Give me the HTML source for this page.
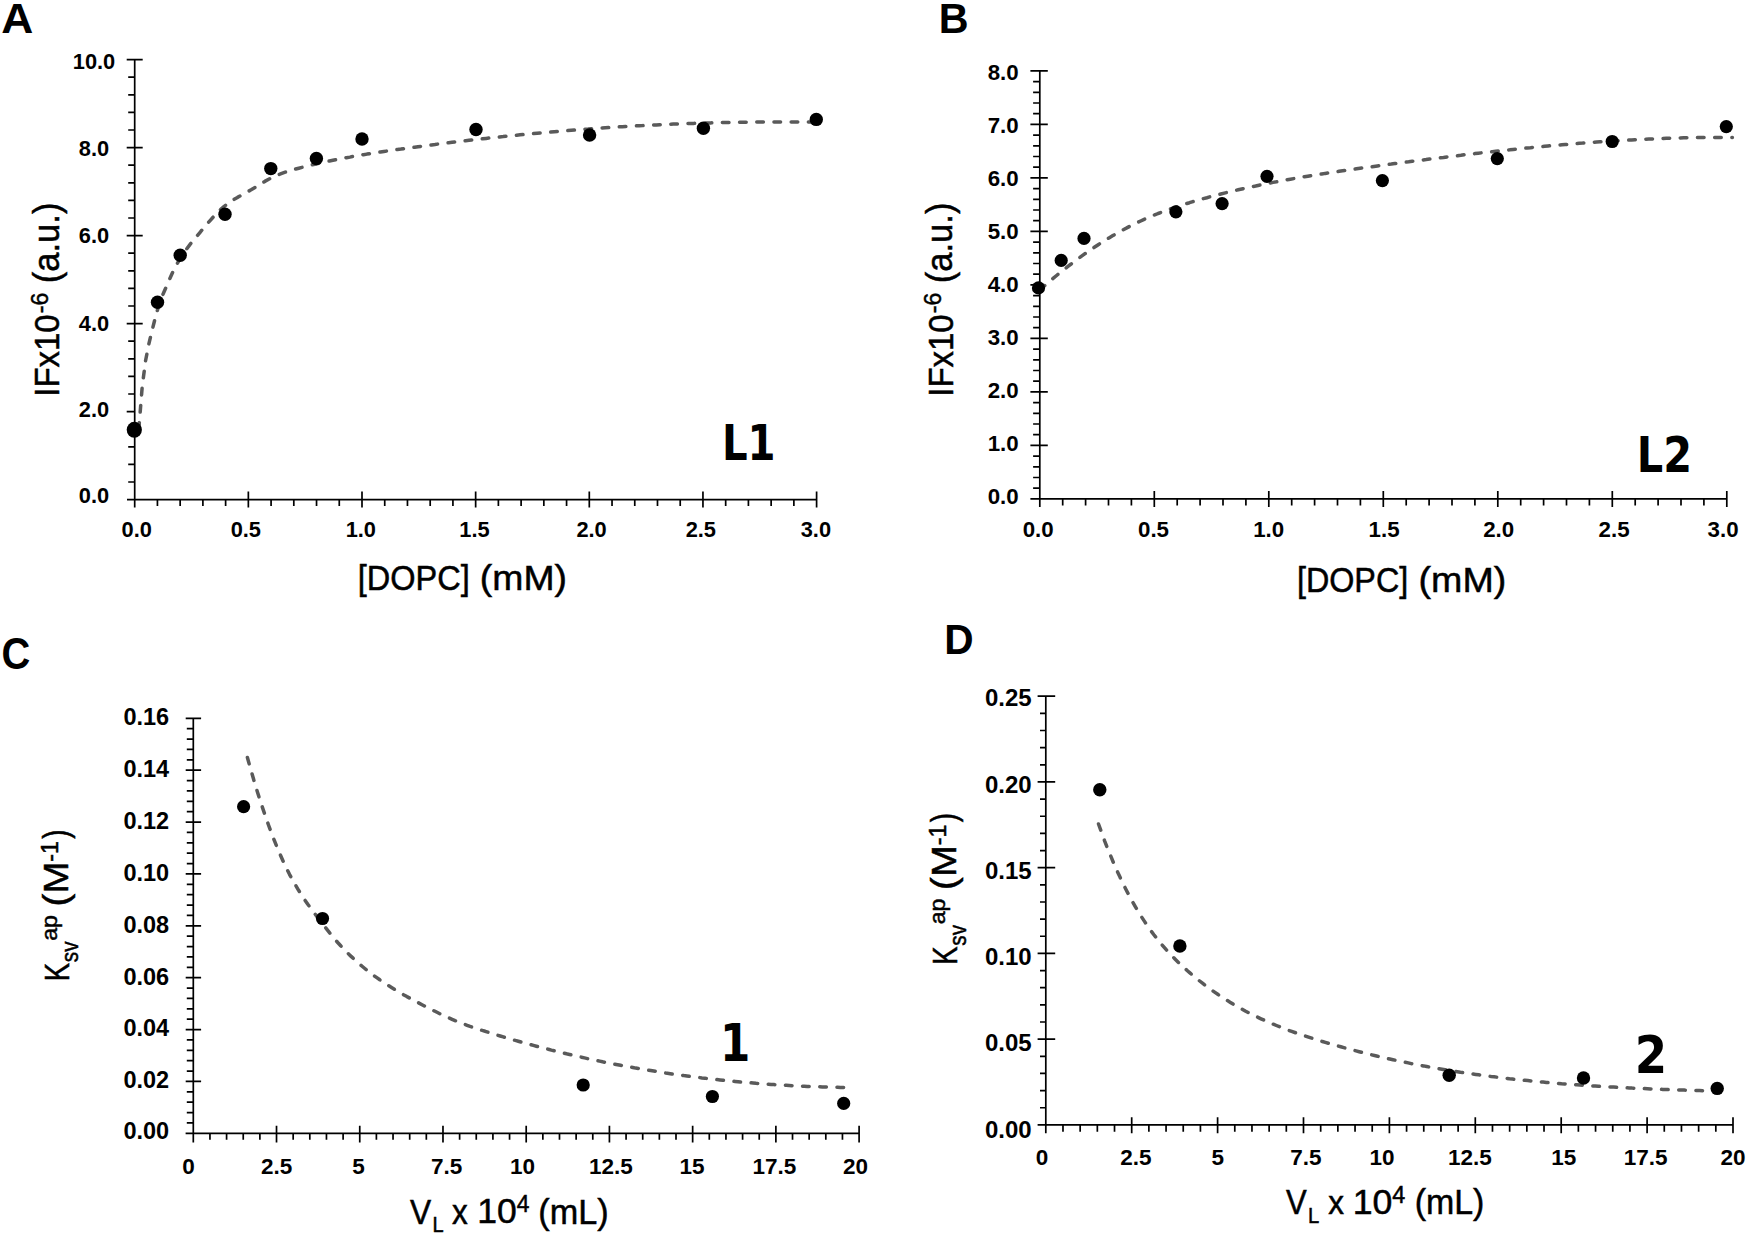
<!DOCTYPE html>
<html><head><meta charset="utf-8"><title>Figure</title>
<style>
html,body{margin:0;padding:0;background:#fff;}
svg{display:block;}
.t{font-family:"Liberation Sans", Arial, sans-serif;font-weight:bold;fill:#000;}
.c{fill:none;stroke:#5a5a5a;stroke-width:3.5;stroke-dasharray:6.6 10.6;stroke-linecap:round;stroke-linejoin:round;}
</style></head>
<body>
<svg width="1747" height="1235" viewBox="0 0 1747 1235">
<rect width="1747" height="1235" fill="#fff"/>
<path d="M134.7,59.6V499.6M127,499.6H816.6M128.2,482H134.7M128.2,464.4H134.7M128.2,446.8H134.7M128.2,429.2H134.7M126.7,411.6H134.7M128.2,394H134.7M128.2,376.4H134.7M128.2,358.8H134.7M128.2,341.2H134.7M126.7,323.6H142.7M128.2,306H134.7M128.2,288.4H134.7M128.2,270.8H134.7M128.2,253.2H134.7M126.7,235.6H142.7M128.2,218H134.7M128.2,200.4H134.7M128.2,182.8H134.7M128.2,165.2H134.7M126.7,147.6H142.7M128.2,130H134.7M128.2,112.4H134.7M128.2,94.8H134.7M128.2,77.2H134.7M126.7,59.6H142.7M134.7,491.6V507.6M157.43,499.6V506.1M180.16,499.6V506.1M202.89,499.6V506.1M225.62,499.6V506.1M248.35,491.6V507.6M271.08,499.6V506.1M293.81,499.6V506.1M316.54,499.6V506.1M339.27,499.6V506.1M362,491.6V507.6M384.73,499.6V506.1M407.46,499.6V506.1M430.19,499.6V506.1M452.92,499.6V506.1M475.65,491.6V507.6M498.38,499.6V506.1M521.11,499.6V506.1M543.84,499.6V506.1M566.57,499.6V506.1M589.3,491.6V507.6M612.03,499.6V506.1M634.76,499.6V506.1M657.49,499.6V506.1M680.22,499.6V506.1M702.95,491.6V507.6M725.68,499.6V506.1M748.41,499.6V506.1M771.14,499.6V506.1M793.87,499.6V506.1M816.6,491.6V507.6" stroke="#000" stroke-width="1.7" fill="none"/>
<text class="t" x="94" y="69.14" font-size="21.80" text-anchor="middle">10.0</text>
<text class="t" x="94" y="156.14" font-size="21.80" text-anchor="middle">8.0</text>
<text class="t" x="94" y="243.14" font-size="21.80" text-anchor="middle">6.0</text>
<text class="t" x="94" y="330.94" font-size="21.80" text-anchor="middle">4.0</text>
<text class="t" x="94" y="417.24" font-size="21.80" text-anchor="middle">2.0</text>
<text class="t" x="94" y="503.04" font-size="21.80" text-anchor="middle">0.0</text>
<text class="t" x="136.7" y="536.6" font-size="21.80" text-anchor="middle">0.0</text>
<text class="t" x="245.8" y="536.6" font-size="21.80" text-anchor="middle">0.5</text>
<text class="t" x="360.8" y="536.6" font-size="21.80" text-anchor="middle">1.0</text>
<text class="t" x="474.5" y="536.6" font-size="21.80" text-anchor="middle">1.5</text>
<text class="t" x="591.6" y="536.6" font-size="21.80" text-anchor="middle">2.0</text>
<text class="t" x="700.8" y="536.6" font-size="21.80" text-anchor="middle">2.5</text>
<text class="t" x="815.9" y="536.6" font-size="21.80" text-anchor="middle">3.0</text>
<path d="M1039.8,70.9V498.9M1030.4,498.9H1726.8M1033.1,488.2H1039.8M1033.1,477.5H1039.8M1033.1,466.8H1039.8M1033.1,456.1H1039.8M1030.4,445.4H1047.8M1033.1,434.7H1039.8M1033.1,424H1039.8M1033.1,413.3H1039.8M1033.1,402.6H1039.8M1030.4,391.9H1047.8M1033.1,381.2H1039.8M1033.1,370.5H1039.8M1033.1,359.8H1039.8M1033.1,349.1H1039.8M1030.4,338.4H1047.8M1033.1,327.7H1039.8M1033.1,317H1039.8M1033.1,306.3H1039.8M1033.1,295.6H1039.8M1030.4,284.9H1039.8M1033.1,274.2H1039.8M1033.1,263.5H1039.8M1033.1,252.8H1039.8M1033.1,242.1H1039.8M1030.4,231.4H1047.8M1033.1,220.7H1039.8M1033.1,210H1039.8M1033.1,199.3H1039.8M1033.1,188.6H1039.8M1030.4,177.9H1047.8M1033.1,167.2H1039.8M1033.1,156.5H1039.8M1033.1,145.8H1039.8M1033.1,135.1H1039.8M1030.4,124.4H1047.8M1033.1,113.7H1039.8M1033.1,103H1039.8M1033.1,92.3H1039.8M1033.1,81.6H1039.8M1030.4,70.9H1047.8M1039.8,490.9V506.9M1062.7,498.9V505.4M1085.6,498.9V505.4M1108.5,498.9V505.4M1131.4,498.9V505.4M1154.3,490.9V506.9M1177.2,498.9V505.4M1200.1,498.9V505.4M1223,498.9V505.4M1245.9,498.9V505.4M1268.8,490.9V506.9M1291.7,498.9V505.4M1314.6,498.9V505.4M1337.5,498.9V505.4M1360.4,498.9V505.4M1383.3,490.9V506.9M1406.2,498.9V505.4M1429.1,498.9V505.4M1452,498.9V505.4M1474.9,498.9V505.4M1497.8,490.9V506.9M1520.7,498.9V505.4M1543.6,498.9V505.4M1566.5,498.9V505.4M1589.4,498.9V505.4M1612.3,490.9V506.9M1635.2,498.9V505.4M1658.1,498.9V505.4M1681,498.9V505.4M1703.9,498.9V505.4M1726.8,490.9V506.9" stroke="#000" stroke-width="1.7" fill="none"/>
<text class="t" x="1003.2" y="504.2" font-size="22.30" text-anchor="middle">0.0</text>
<text class="t" x="1003.2" y="451.19" font-size="22.30" text-anchor="middle">1.0</text>
<text class="t" x="1003.2" y="398.18" font-size="22.30" text-anchor="middle">2.0</text>
<text class="t" x="1003.2" y="345.17" font-size="22.30" text-anchor="middle">3.0</text>
<text class="t" x="1003.2" y="292.16" font-size="22.30" text-anchor="middle">4.0</text>
<text class="t" x="1003.2" y="239.15" font-size="22.30" text-anchor="middle">5.0</text>
<text class="t" x="1003.2" y="186.14" font-size="22.30" text-anchor="middle">6.0</text>
<text class="t" x="1003.2" y="133.13" font-size="22.30" text-anchor="middle">7.0</text>
<text class="t" x="1003.2" y="80.12" font-size="22.30" text-anchor="middle">8.0</text>
<text class="t" x="1038.2" y="536.9" font-size="22.30" text-anchor="middle">0.0</text>
<text class="t" x="1153.5" y="536.9" font-size="22.30" text-anchor="middle">0.5</text>
<text class="t" x="1268.7" y="536.9" font-size="22.30" text-anchor="middle">1.0</text>
<text class="t" x="1384.1" y="536.9" font-size="22.30" text-anchor="middle">1.5</text>
<text class="t" x="1498.7" y="536.9" font-size="22.30" text-anchor="middle">2.0</text>
<text class="t" x="1614.1" y="536.9" font-size="22.30" text-anchor="middle">2.5</text>
<text class="t" x="1723.1" y="536.9" font-size="22.30" text-anchor="middle">3.0</text>
<path d="M193.3,718.3V1133.3M185.6,1133.3H859.1M186.8,1122.92H193.3M186.8,1112.55H193.3M186.8,1102.17H193.3M186.8,1091.8H193.3M185.7,1081.42H201.1M186.8,1071.05H193.3M186.8,1060.67H193.3M186.8,1050.3H193.3M186.8,1039.92H193.3M185.7,1029.55H201.1M186.8,1019.17H193.3M186.8,1008.8H193.3M186.8,998.42H193.3M186.8,988.05H193.3M185.7,977.67H201.1M186.8,967.3H193.3M186.8,956.92H193.3M186.8,946.55H193.3M186.8,936.17H193.3M185.7,925.8H201.1M186.8,915.42H193.3M186.8,905.05H193.3M186.8,894.67H193.3M186.8,884.3H193.3M185.7,873.92H201.1M186.8,863.55H193.3M186.8,853.17H193.3M186.8,842.8H193.3M186.8,832.42H193.3M185.7,822.05H201.1M186.8,811.67H193.3M186.8,801.3H193.3M186.8,790.92H193.3M186.8,780.55H193.3M185.7,770.17H201.1M186.8,759.8H193.3M186.8,749.42H193.3M186.8,739.05H193.3M186.8,728.67H193.3M185.7,718.3H201.1M193.3,1125.7V1142.5M209.95,1133.3V1139.7M226.59,1133.3V1139.7M243.24,1133.3V1139.7M259.88,1133.3V1139.7M276.52,1125.7V1142.5M293.17,1133.3V1139.7M309.81,1133.3V1139.7M326.46,1133.3V1139.7M343.11,1133.3V1139.7M359.75,1125.7V1142.5M376.39,1133.3V1139.7M393.04,1133.3V1139.7M409.69,1133.3V1139.7M426.33,1133.3V1139.7M442.98,1125.7V1142.5M459.62,1133.3V1139.7M476.26,1133.3V1139.7M492.91,1133.3V1139.7M509.56,1133.3V1139.7M526.2,1125.7V1142.5M542.85,1133.3V1139.7M559.49,1133.3V1139.7M576.13,1133.3V1139.7M592.78,1133.3V1139.7M609.42,1125.7V1142.5M626.07,1133.3V1139.7M642.71,1133.3V1139.7M659.36,1133.3V1139.7M676,1133.3V1139.7M692.65,1125.7V1142.5M709.3,1133.3V1139.7M725.94,1133.3V1139.7M742.59,1133.3V1139.7M759.23,1133.3V1139.7M775.88,1125.7V1142.5M792.52,1133.3V1139.7M809.16,1133.3V1139.7M825.81,1133.3V1139.7M842.45,1133.3V1139.7M859.1,1125.7V1142.5" stroke="#000" stroke-width="1.7" fill="none"/>
<text class="t" x="146.3" y="725.34" font-size="23.50" text-anchor="middle">0.16</text>
<text class="t" x="146.3" y="777.24" font-size="23.50" text-anchor="middle">0.14</text>
<text class="t" x="146.3" y="829.14" font-size="23.50" text-anchor="middle">0.12</text>
<text class="t" x="146.3" y="880.94" font-size="23.50" text-anchor="middle">0.10</text>
<text class="t" x="146.3" y="932.84" font-size="23.50" text-anchor="middle">0.08</text>
<text class="t" x="146.3" y="985.14" font-size="23.50" text-anchor="middle">0.06</text>
<text class="t" x="146.3" y="1036.14" font-size="23.50" text-anchor="middle">0.04</text>
<text class="t" x="146.3" y="1088.14" font-size="23.50" text-anchor="middle">0.02</text>
<text class="t" x="146.3" y="1138.94" font-size="23.50" text-anchor="middle">0.00</text>
<text class="t" x="188.5" y="1173.5" font-size="22.50" text-anchor="middle">0</text>
<text class="t" x="276.6" y="1173.5" font-size="22.50" text-anchor="middle">2.5</text>
<text class="t" x="358.4" y="1173.5" font-size="22.50" text-anchor="middle">5</text>
<text class="t" x="446.6" y="1173.5" font-size="22.50" text-anchor="middle">7.5</text>
<text class="t" x="522.6" y="1173.5" font-size="22.50" text-anchor="middle">10</text>
<text class="t" x="610.8" y="1173.5" font-size="22.50" text-anchor="middle">12.5</text>
<text class="t" x="692.1" y="1173.5" font-size="22.50" text-anchor="middle">15</text>
<text class="t" x="774.4" y="1173.5" font-size="22.50" text-anchor="middle">17.5</text>
<text class="t" x="855.6" y="1173.5" font-size="22.50" text-anchor="middle">20</text>
<path d="M1045.8,696.2V1124.9M1037.6,1124.9H1733M1040,1107.75H1045.8M1040,1090.6H1045.8M1040,1073.46H1045.8M1040,1056.31H1045.8M1037.6,1039.16H1055.2M1040,1022.01H1045.8M1040,1004.86H1045.8M1040,987.72H1045.8M1040,970.57H1045.8M1037.6,953.42H1055.2M1040,936.27H1045.8M1040,919.12H1045.8M1040,901.98H1045.8M1040,884.83H1045.8M1037.6,867.68H1055.2M1040,850.53H1045.8M1040,833.38H1045.8M1040,816.24H1045.8M1040,799.09H1045.8M1037.6,781.94H1055.2M1040,764.79H1045.8M1040,747.64H1045.8M1040,730.5H1045.8M1040,713.35H1045.8M1037.6,696.2H1055.2M1045.8,1117.3V1133.3M1062.98,1124.9V1131.7M1080.16,1124.9V1131.7M1097.34,1124.9V1131.7M1114.52,1124.9V1131.7M1131.7,1117.3V1133.3M1148.88,1124.9V1131.7M1166.06,1124.9V1131.7M1183.24,1124.9V1131.7M1200.42,1124.9V1131.7M1217.6,1117.3V1133.3M1234.78,1124.9V1131.7M1251.96,1124.9V1131.7M1269.14,1124.9V1131.7M1286.32,1124.9V1131.7M1303.5,1117.3V1133.3M1320.68,1124.9V1131.7M1337.86,1124.9V1131.7M1355.04,1124.9V1131.7M1372.22,1124.9V1131.7M1389.4,1117.3V1133.3M1406.58,1124.9V1131.7M1423.76,1124.9V1131.7M1440.94,1124.9V1131.7M1458.12,1124.9V1131.7M1475.3,1117.3V1133.3M1492.48,1124.9V1131.7M1509.66,1124.9V1131.7M1526.84,1124.9V1131.7M1544.02,1124.9V1131.7M1561.2,1117.3V1133.3M1578.38,1124.9V1131.7M1595.56,1124.9V1131.7M1612.74,1124.9V1131.7M1629.92,1124.9V1131.7M1647.1,1117.3V1133.3M1664.28,1124.9V1131.7M1681.46,1124.9V1131.7M1698.64,1124.9V1131.7M1715.82,1124.9V1131.7M1733,1117.3V1133.3" stroke="#000" stroke-width="1.7" fill="none"/>
<text class="t" x="1008.3" y="706.27" font-size="24.00" text-anchor="middle">0.25</text>
<text class="t" x="1008.3" y="793.22" font-size="24.00" text-anchor="middle">0.20</text>
<text class="t" x="1008.3" y="879.12" font-size="24.00" text-anchor="middle">0.15</text>
<text class="t" x="1008.3" y="965.32" font-size="24.00" text-anchor="middle">0.10</text>
<text class="t" x="1008.3" y="1051.22" font-size="24.00" text-anchor="middle">0.05</text>
<text class="t" x="1008.3" y="1137.72" font-size="24.00" text-anchor="middle">0.00</text>
<text class="t" x="1042" y="1164.9" font-size="22.50" text-anchor="middle">0</text>
<text class="t" x="1135.9" y="1164.9" font-size="22.50" text-anchor="middle">2.5</text>
<text class="t" x="1217.8" y="1164.9" font-size="22.50" text-anchor="middle">5</text>
<text class="t" x="1305.8" y="1164.9" font-size="22.50" text-anchor="middle">7.5</text>
<text class="t" x="1381.9" y="1164.9" font-size="22.50" text-anchor="middle">10</text>
<text class="t" x="1470" y="1164.9" font-size="22.50" text-anchor="middle">12.5</text>
<text class="t" x="1563.7" y="1164.9" font-size="22.50" text-anchor="middle">15</text>
<text class="t" x="1645.6" y="1164.9" font-size="22.50" text-anchor="middle">17.5</text>
<text class="t" x="1733" y="1164.9" font-size="22.50" text-anchor="middle">20</text>
<path d="M138.8,429.2 L142.2,386.8 L145.6,360.5 L149.0,343.3 L152.4,329.2 L155.8,315.8 L159.2,304.1 L162.6,295.2 L166.0,287.4 L169.4,279.6 L172.8,272.0 L176.2,265.3 L179.7,259.3 L183.1,254.0 L186.5,249.1 L189.9,244.6 L193.3,240.4 L196.7,236.3 L200.1,232.3 L203.5,228.2 L206.9,224.2 L210.3,220.3 L213.7,216.5 L217.1,212.9 L220.5,209.6 L223.9,206.6 L227.3,204.0 L230.7,201.6 L234.1,199.4 L237.5,197.4 L240.9,195.5 L244.3,193.6 L247.7,191.7 L251.1,189.8 L254.6,187.7 L258.0,185.6 L261.4,183.5 L264.8,181.4 L268.2,179.5 L271.6,177.7 L275.0,176.1 L278.4,174.7 L281.8,173.4 L285.2,172.2 L288.6,171.1 L292.0,170.0 L295.4,169.1 L298.8,168.2 L302.2,167.3 L305.6,166.4 L309.0,165.6 L312.4,164.8 L315.8,164.0 L319.2,163.2 L322.6,162.5 L326.0,161.7 L329.5,161.0 L332.9,160.3 L336.3,159.6 L339.7,159.0 L343.1,158.3 L346.5,157.7 L349.9,157.1 L353.3,156.4 L356.7,155.9 L360.1,155.3 L363.5,154.7 L366.9,154.1 L370.3,153.6 L373.7,153.1 L377.1,152.5 L380.5,152.0 L383.9,151.5 L387.3,151.0 L390.7,150.5 L394.1,150.0 L397.5,149.5 L400.9,149.1 L404.4,148.6 L407.8,148.1 L411.2,147.6 L414.6,147.2 L418.0,146.7 L421.4,146.3 L424.8,145.8 L428.2,145.4 L431.6,144.9 L435.0,144.5 L438.4,144.0 L441.8,143.6 L445.2,143.2 L448.6,142.8 L452.0,142.3 L455.4,141.9 L458.8,141.5 L462.2,141.1 L465.6,140.7 L469.0,140.3 L472.4,139.9 L475.8,139.5 L479.3,139.1 L482.7,138.8 L486.1,138.4 L489.5,138.0 L492.9,137.6 L496.3,137.3 L499.7,136.9 L503.1,136.6 L506.5,136.2 L509.9,135.9 L513.3,135.5 L516.7,135.2 L520.1,134.8 L523.5,134.5 L526.9,134.2 L530.3,133.8 L533.7,133.5 L537.1,133.2 L540.5,132.9 L543.9,132.6 L547.3,132.3 L550.7,132.0 L554.2,131.7 L557.6,131.4 L561.0,131.1 L564.4,130.8 L567.8,130.6 L571.2,130.3 L574.6,130.0 L578.0,129.8 L581.4,129.5 L584.8,129.2 L588.2,129.0 L591.6,128.7 L595.0,128.5 L598.4,128.3 L601.8,128.0 L605.2,127.8 L608.6,127.6 L612.0,127.4 L615.4,127.1 L618.8,126.9 L622.2,126.7 L625.6,126.5 L629.1,126.3 L632.5,126.1 L635.9,125.9 L639.3,125.7 L642.7,125.6 L646.1,125.4 L649.5,125.2 L652.9,125.0 L656.3,124.9 L659.7,124.7 L663.1,124.6 L666.5,124.4 L669.9,124.3 L673.3,124.1 L676.7,124.0 L680.1,123.9 L683.5,123.7 L686.9,123.6 L690.3,123.5 L693.7,123.4 L697.1,123.3 L700.5,123.1 L704.0,123.0 L707.4,122.9 L710.8,122.9 L714.2,122.8 L717.6,122.7 L721.0,122.6 L724.4,122.5 L727.8,122.5 L731.2,122.4 L734.6,122.3 L738.0,122.3 L741.4,122.2 L744.8,122.2 L748.2,122.1 L751.6,122.1 L755.0,122.1 L758.4,122.0 L761.8,122.0 L765.2,122.0 L768.6,122.0 L772.0,122.0 L775.4,121.9 L778.9,121.9 L782.3,121.9 L785.7,122.0 L789.1,122.0 L792.5,122.0 L795.9,122.0 L799.3,122.0 L802.7,122.1 L806.1,122.1 L809.5,122.1 L812.9,122.2 L816.3,122.2" class="c"/>
<path d="M1039.8,289.9 L1043.3,286.8 L1046.8,283.8 L1050.2,280.8 L1053.7,277.9 L1057.2,275.0 L1060.7,272.2 L1064.2,269.4 L1067.6,266.7 L1071.1,264.0 L1074.6,261.3 L1078.1,258.7 L1081.6,256.2 L1085.0,253.7 L1088.5,251.3 L1092.0,248.9 L1095.5,246.5 L1099.0,244.2 L1102.4,242.0 L1105.9,239.8 L1109.4,237.7 L1112.9,235.6 L1116.4,233.6 L1119.8,231.6 L1123.3,229.7 L1126.8,227.9 L1130.3,226.0 L1133.8,224.3 L1137.3,222.6 L1140.7,221.0 L1144.2,219.4 L1147.7,217.8 L1151.2,216.4 L1154.7,214.9 L1158.1,213.5 L1161.6,212.2 L1165.1,210.8 L1168.6,209.6 L1172.1,208.3 L1175.5,207.1 L1179.0,206.0 L1182.5,204.8 L1186.0,203.7 L1189.5,202.7 L1192.9,201.6 L1196.4,200.6 L1199.9,199.6 L1203.4,198.6 L1206.9,197.7 L1210.3,196.7 L1213.8,195.8 L1217.3,194.9 L1220.8,194.0 L1224.3,193.1 L1227.7,192.3 L1231.2,191.5 L1234.7,190.6 L1238.2,189.8 L1241.7,189.0 L1245.1,188.2 L1248.6,187.5 L1252.1,186.7 L1255.6,186.0 L1259.1,185.2 L1262.5,184.5 L1266.0,183.8 L1269.5,183.1 L1273.0,182.4 L1276.5,181.8 L1279.9,181.1 L1283.4,180.5 L1286.9,179.8 L1290.4,179.2 L1293.9,178.6 L1297.3,178.0 L1300.8,177.4 L1304.3,176.8 L1307.8,176.2 L1311.3,175.6 L1314.8,175.1 L1318.2,174.5 L1321.7,174.0 L1325.2,173.4 L1328.7,172.9 L1332.2,172.4 L1335.6,171.8 L1339.1,171.3 L1342.6,170.8 L1346.1,170.3 L1349.6,169.8 L1353.0,169.3 L1356.5,168.8 L1360.0,168.3 L1363.5,167.8 L1367.0,167.4 L1370.4,166.9 L1373.9,166.4 L1377.4,165.9 L1380.9,165.5 L1384.4,165.0 L1387.8,164.5 L1391.3,164.1 L1394.8,163.6 L1398.3,163.2 L1401.8,162.7 L1405.2,162.2 L1408.7,161.8 L1412.2,161.3 L1415.7,160.9 L1419.2,160.4 L1422.6,160.0 L1426.1,159.6 L1429.6,159.1 L1433.1,158.7 L1436.6,158.2 L1440.0,157.8 L1443.5,157.4 L1447.0,156.9 L1450.5,156.5 L1454.0,156.1 L1457.4,155.7 L1460.9,155.3 L1464.4,154.8 L1467.9,154.4 L1471.4,154.0 L1474.9,153.6 L1478.3,153.2 L1481.8,152.8 L1485.3,152.4 L1488.8,152.0 L1492.3,151.7 L1495.7,151.3 L1499.2,150.9 L1502.7,150.5 L1506.2,150.1 L1509.7,149.8 L1513.1,149.4 L1516.6,149.1 L1520.1,148.7 L1523.6,148.3 L1527.1,148.0 L1530.5,147.7 L1534.0,147.3 L1537.5,147.0 L1541.0,146.7 L1544.5,146.3 L1547.9,146.0 L1551.4,145.7 L1554.9,145.4 L1558.4,145.1 L1561.9,144.8 L1565.3,144.5 L1568.8,144.2 L1572.3,143.9 L1575.8,143.6 L1579.3,143.3 L1582.7,143.1 L1586.2,142.8 L1589.7,142.5 L1593.2,142.3 L1596.7,142.0 L1600.1,141.8 L1603.6,141.6 L1607.1,141.3 L1610.6,141.1 L1614.1,140.9 L1617.5,140.7 L1621.0,140.5 L1624.5,140.3 L1628.0,140.1 L1631.5,139.9 L1634.9,139.7 L1638.4,139.5 L1641.9,139.4 L1645.4,139.2 L1648.9,139.0 L1652.4,138.9 L1655.8,138.7 L1659.3,138.6 L1662.8,138.5 L1666.3,138.3 L1669.8,138.2 L1673.2,138.1 L1676.7,138.0 L1680.2,137.9 L1683.7,137.8 L1687.2,137.8 L1690.6,137.7 L1694.1,137.6 L1697.6,137.6 L1701.1,137.5 L1704.6,137.5 L1708.0,137.4 L1711.5,137.4 L1715.0,137.4 L1718.5,137.4 L1722.0,137.4 L1725.4,137.4 L1728.9,137.4 L1732.4,137.4" class="c"/>
<path d="M247.4,757.5 L250.4,768.3 L253.4,778.6 L256.4,788.7 L259.4,798.3 L262.5,807.6 L265.5,816.5 L268.5,825.0 L271.5,833.1 L274.5,840.9 L277.5,848.3 L280.5,855.3 L283.5,862.0 L286.5,868.3 L289.5,874.3 L292.6,879.9 L295.6,885.2 L298.6,890.3 L301.6,895.1 L304.6,899.6 L307.6,904.0 L310.6,908.1 L313.6,912.1 L316.6,916.1 L319.6,920.0 L322.7,924.0 L325.7,927.9 L328.7,931.7 L331.7,935.4 L334.7,939.0 L337.7,942.5 L340.7,945.8 L343.7,949.0 L346.7,952.1 L349.7,955.1 L352.8,957.9 L355.8,960.7 L358.8,963.4 L361.8,966.0 L364.8,968.5 L367.8,970.9 L370.8,973.2 L373.8,975.5 L376.8,977.7 L379.8,979.8 L382.9,981.9 L385.9,983.9 L388.9,985.8 L391.9,987.7 L394.9,989.6 L397.9,991.4 L400.9,993.1 L403.9,994.9 L406.9,996.6 L409.9,998.2 L413.0,999.9 L416.0,1001.5 L419.0,1003.1 L422.0,1004.7 L425.0,1006.3 L428.0,1007.8 L431.0,1009.4 L434.0,1010.8 L437.0,1012.3 L440.0,1013.8 L443.1,1015.2 L446.1,1016.6 L449.1,1018.0 L452.1,1019.3 L455.1,1020.6 L458.1,1021.8 L461.1,1023.0 L464.1,1024.2 L467.1,1025.3 L470.1,1026.4 L473.2,1027.4 L476.2,1028.4 L479.2,1029.4 L482.2,1030.4 L485.2,1031.3 L488.2,1032.3 L491.2,1033.2 L494.2,1034.2 L497.2,1035.1 L500.2,1036.0 L503.3,1036.9 L506.3,1037.8 L509.3,1038.6 L512.3,1039.5 L515.3,1040.4 L518.3,1041.2 L521.3,1042.1 L524.3,1042.9 L527.3,1043.8 L530.3,1044.6 L533.4,1045.4 L536.4,1046.2 L539.4,1047.0 L542.4,1047.8 L545.4,1048.6 L548.4,1049.3 L551.4,1050.1 L554.4,1050.8 L557.4,1051.6 L560.4,1052.3 L563.5,1053.0 L566.5,1053.8 L569.5,1054.5 L572.5,1055.2 L575.5,1055.9 L578.5,1056.6 L581.5,1057.2 L584.5,1057.9 L587.5,1058.6 L590.5,1059.2 L593.6,1059.9 L596.6,1060.5 L599.6,1061.1 L602.6,1061.8 L605.6,1062.4 L608.6,1063.0 L611.6,1063.6 L614.6,1064.2 L617.6,1064.7 L620.6,1065.3 L623.7,1065.9 L626.7,1066.4 L629.7,1067.0 L632.7,1067.5 L635.7,1068.1 L638.7,1068.6 L641.7,1069.1 L644.7,1069.6 L647.7,1070.1 L650.7,1070.6 L653.8,1071.1 L656.8,1071.6 L659.8,1072.0 L662.8,1072.5 L665.8,1073.0 L668.8,1073.4 L671.8,1073.9 L674.8,1074.3 L677.8,1074.7 L680.8,1075.1 L683.9,1075.6 L686.9,1076.0 L689.9,1076.4 L692.9,1076.7 L695.9,1077.1 L698.9,1077.5 L701.9,1077.9 L704.9,1078.2 L707.9,1078.6 L710.9,1078.9 L714.0,1079.3 L717.0,1079.6 L720.0,1079.9 L723.0,1080.2 L726.0,1080.6 L729.0,1080.9 L732.0,1081.2 L735.0,1081.4 L738.0,1081.7 L741.0,1082.0 L744.1,1082.3 L747.1,1082.5 L750.1,1082.8 L753.1,1083.0 L756.1,1083.3 L759.1,1083.5 L762.1,1083.7 L765.1,1084.0 L768.1,1084.2 L771.1,1084.4 L774.2,1084.6 L777.2,1084.8 L780.2,1085.0 L783.2,1085.2 L786.2,1085.3 L789.2,1085.5 L792.2,1085.7 L795.2,1085.8 L798.2,1086.0 L801.2,1086.1 L804.3,1086.2 L807.3,1086.4 L810.3,1086.5 L813.3,1086.6 L816.3,1086.7 L819.3,1086.8 L822.3,1086.9 L825.3,1087.0 L828.3,1087.1 L831.3,1087.2 L834.4,1087.3 L837.4,1087.3 L840.4,1087.4 L843.4,1087.4 L846.4,1087.5" class="c"/>
<path d="M1098.5,824.0 L1101.6,832.6 L1104.6,840.8 L1107.7,848.7 L1110.8,856.2 L1113.8,863.5 L1116.9,870.5 L1120.0,877.1 L1123.0,883.5 L1126.1,889.7 L1129.2,895.6 L1132.2,901.2 L1135.3,906.6 L1138.4,911.8 L1141.4,916.7 L1144.5,921.4 L1147.6,926.0 L1150.6,930.3 L1153.7,934.5 L1156.8,938.4 L1159.8,942.3 L1162.9,945.9 L1166.0,949.4 L1169.0,952.8 L1172.1,956.1 L1175.2,959.2 L1178.2,962.2 L1181.3,965.1 L1184.4,968.0 L1187.4,970.7 L1190.5,973.4 L1193.6,976.0 L1196.6,978.5 L1199.7,981.0 L1202.8,983.4 L1205.8,985.8 L1208.9,988.0 L1212.0,990.3 L1215.0,992.4 L1218.1,994.5 L1221.2,996.6 L1224.2,998.6 L1227.3,1000.5 L1230.4,1002.4 L1233.4,1004.3 L1236.5,1006.1 L1239.6,1007.8 L1242.6,1009.5 L1245.7,1011.2 L1248.8,1012.8 L1251.8,1014.4 L1254.9,1015.9 L1258.0,1017.4 L1261.0,1018.8 L1264.1,1020.2 L1267.2,1021.6 L1270.2,1022.9 L1273.3,1024.2 L1276.4,1025.5 L1279.4,1026.7 L1282.5,1027.9 L1285.6,1029.1 L1288.6,1030.3 L1291.7,1031.4 L1294.8,1032.5 L1297.8,1033.5 L1300.9,1034.6 L1304.0,1035.6 L1307.0,1036.6 L1310.1,1037.6 L1313.2,1038.6 L1316.2,1039.6 L1319.3,1040.5 L1322.4,1041.5 L1325.4,1042.4 L1328.5,1043.3 L1331.6,1044.2 L1334.6,1045.1 L1337.7,1045.9 L1340.8,1046.8 L1343.8,1047.6 L1346.9,1048.5 L1350.0,1049.3 L1353.0,1050.1 L1356.1,1050.9 L1359.2,1051.7 L1362.2,1052.5 L1365.3,1053.3 L1368.4,1054.0 L1371.4,1054.8 L1374.5,1055.5 L1377.6,1056.2 L1380.6,1057.0 L1383.7,1057.7 L1386.8,1058.4 L1389.8,1059.0 L1392.9,1059.7 L1396.0,1060.4 L1399.0,1061.0 L1402.1,1061.7 L1405.2,1062.3 L1408.3,1062.9 L1411.3,1063.6 L1414.4,1064.2 L1417.5,1064.8 L1420.5,1065.4 L1423.6,1065.9 L1426.7,1066.5 L1429.7,1067.1 L1432.8,1067.6 L1435.9,1068.2 L1438.9,1068.7 L1442.0,1069.2 L1445.1,1069.7 L1448.1,1070.2 L1451.2,1070.7 L1454.3,1071.2 L1457.3,1071.7 L1460.4,1072.2 L1463.5,1072.6 L1466.5,1073.1 L1469.6,1073.5 L1472.7,1074.0 L1475.7,1074.4 L1478.8,1074.8 L1481.9,1075.3 L1484.9,1075.7 L1488.0,1076.1 L1491.1,1076.5 L1494.1,1076.8 L1497.2,1077.2 L1500.3,1077.6 L1503.3,1078.0 L1506.4,1078.3 L1509.5,1078.7 L1512.5,1079.0 L1515.6,1079.4 L1518.7,1079.7 L1521.7,1080.0 L1524.8,1080.3 L1527.9,1080.6 L1530.9,1080.9 L1534.0,1081.2 L1537.1,1081.5 L1540.1,1081.8 L1543.2,1082.1 L1546.3,1082.4 L1549.3,1082.7 L1552.4,1082.9 L1555.5,1083.2 L1558.5,1083.4 L1561.6,1083.7 L1564.7,1083.9 L1567.7,1084.2 L1570.8,1084.4 L1573.9,1084.6 L1576.9,1084.8 L1580.0,1085.1 L1583.1,1085.3 L1586.1,1085.5 L1589.2,1085.7 L1592.3,1085.9 L1595.3,1086.1 L1598.4,1086.3 L1601.5,1086.4 L1604.5,1086.6 L1607.6,1086.8 L1610.7,1087.0 L1613.7,1087.1 L1616.8,1087.3 L1619.9,1087.5 L1622.9,1087.6 L1626.0,1087.8 L1629.1,1087.9 L1632.1,1088.1 L1635.2,1088.2 L1638.3,1088.3 L1641.3,1088.5 L1644.4,1088.6 L1647.5,1088.7 L1650.5,1088.9 L1653.6,1089.0 L1656.7,1089.1 L1659.7,1089.2 L1662.8,1089.4 L1665.9,1089.5 L1668.9,1089.6 L1672.0,1089.7 L1675.1,1089.8 L1678.1,1089.9 L1681.2,1090.0 L1684.3,1090.1 L1687.3,1090.2 L1690.4,1090.3 L1693.5,1090.4 L1696.5,1090.5 L1699.6,1090.6 L1702.7,1090.7 L1705.7,1090.8 L1708.8,1090.8" class="c"/>
<circle cx="157.5" cy="302.2" r="6.7"/>
<circle cx="180.2" cy="255.3" r="6.7"/>
<circle cx="225" cy="214.3" r="6.7"/>
<circle cx="270.8" cy="168.6" r="6.7"/>
<circle cx="316.4" cy="158.5" r="6.7"/>
<circle cx="362" cy="139" r="6.7"/>
<circle cx="476" cy="129.5" r="6.7"/>
<circle cx="589.6" cy="135" r="6.7"/>
<circle cx="703.4" cy="128.3" r="6.7"/>
<circle cx="816.3" cy="119.4" r="6.7"/>
<ellipse cx="134.3" cy="429.8" rx="7.6" ry="8.0"/>
<circle cx="1038.5" cy="287.9" r="6.6"/>
<circle cx="1061.2" cy="260.4" r="6.6"/>
<circle cx="1084" cy="238.4" r="6.6"/>
<circle cx="1175.9" cy="211.8" r="6.6"/>
<circle cx="1222.1" cy="203.6" r="6.6"/>
<circle cx="1267" cy="176.3" r="6.6"/>
<circle cx="1382.4" cy="180.6" r="6.6"/>
<circle cx="1497.3" cy="158.6" r="6.6"/>
<circle cx="1612.2" cy="141.5" r="6.6"/>
<circle cx="1726.3" cy="126.6" r="6.6"/>
<circle cx="243.6" cy="806.7" r="6.6"/>
<circle cx="322.5" cy="918.5" r="6.6"/>
<circle cx="583.2" cy="1085" r="6.6"/>
<circle cx="712.4" cy="1096.5" r="6.6"/>
<circle cx="843.7" cy="1103.4" r="6.6"/>
<circle cx="1099.8" cy="789.7" r="6.7"/>
<circle cx="1179.9" cy="946" r="6.7"/>
<circle cx="1449.2" cy="1075.2" r="6.7"/>
<circle cx="1583.5" cy="1078" r="6.7"/>
<circle cx="1717.2" cy="1088.4" r="6.7"/>
<text transform="translate(1.37,32.9) scale(1.0193,0.9807)" font-family="'Liberation Sans', sans-serif" font-weight="bold" font-size="43.55">A</text>
<text transform="translate(938.71,32.6) scale(0.9795,1.0205)" font-family="'Liberation Sans', sans-serif" font-weight="bold" font-size="42.18">B</text>
<text transform="translate(1.41,669.46) scale(0.9511,1.0489)" font-family="'Liberation Sans', sans-serif" font-weight="bold" font-size="41.89">C</text>
<text transform="translate(944.25,653.7) scale(0.9732,1.0268)" font-family="'Liberation Sans', sans-serif" font-weight="bold" font-size="41.78">D</text>
<text transform="translate(721.88,460.1) scale(0.8866,1.1134)" font-family="'DejaVu Sans', sans-serif" font-weight="bold" font-size="45.40">L1</text>
<text transform="translate(1636.87,472.2) scale(0.9040,1.0960)" font-family="'DejaVu Sans', sans-serif" font-weight="bold" font-size="45.87">L2</text>
<text transform="translate(720.1,1060.6) scale(0.9241,1.0759)" font-family="'DejaVu Sans', sans-serif" font-weight="bold" font-size="47.24">1</text>
<text transform="translate(1634.67,1073) scale(0.9581,1.0419)" font-family="'DejaVu Sans', sans-serif" font-weight="bold" font-size="48.64">2</text>
<text transform="translate(357.82,589.6) scale(0.9600,1.0400)" font-family="'Liberation Sans', sans-serif" stroke="#000" stroke-width="0.5" font-size="33.86">[DOPC]</text>
<text transform="translate(479.86,589.6) scale(1.0339,0.9661)" font-family="'Liberation Sans', sans-serif" stroke="#000" stroke-width="0.5" font-size="36.15">(mM)</text>
<text transform="translate(1296.94,592.3) scale(0.9547,1.0453)" font-family="'Liberation Sans', sans-serif" stroke="#000" stroke-width="0.5" font-size="33.83">[DOPC]</text>
<text transform="translate(1418.54,592.3) scale(1.0348,0.9652)" font-family="'Liberation Sans', sans-serif" stroke="#000" stroke-width="0.5" font-size="36.34">(mM)</text>
<text transform="translate(409.98,1223.5) scale(0.9412,1.0588)" font-family="'Liberation Sans', sans-serif" stroke="#000" stroke-width="0.5" font-size="33.67">V</text>
<text transform="translate(432.4,1231.6) scale(0.9356,1.0644)" font-family="'Liberation Sans', sans-serif" stroke="#000" stroke-width="0.5" font-size="21.38">L</text>
<text transform="translate(451.99,1223.5) scale(0.9535,1.0465)" font-family="'Liberation Sans', sans-serif" stroke="#000" stroke-width="0.5" font-size="32.99">x</text>
<text transform="translate(477.16,1223.15) scale(1.0129,0.9871)" font-family="'Liberation Sans', sans-serif" stroke="#000" stroke-width="0.5" font-size="35.10">10</text>
<text transform="translate(516.65,1212.1) scale(0.9672,1.0328)" font-family="'Liberation Sans', sans-serif" stroke="#000" stroke-width="0.5" font-size="23.52">4</text>
<text transform="translate(538.35,1223.5) scale(0.9799,1.0201)" font-family="'Liberation Sans', sans-serif" stroke="#000" stroke-width="0.5" font-size="34.95">(mL)</text>
<text transform="translate(1285.99,1214.3) scale(0.9355,1.0645)" font-family="'Liberation Sans', sans-serif" stroke="#000" stroke-width="0.5" font-size="33.22">V</text>
<text transform="translate(1307.98,1222.9) scale(0.9381,1.0619)" font-family="'Liberation Sans', sans-serif" stroke="#000" stroke-width="0.5" font-size="21.56">L</text>
<text transform="translate(1328.19,1214.3) scale(0.9645,1.0355)" font-family="'Liberation Sans', sans-serif" stroke="#000" stroke-width="0.5" font-size="32.62">x</text>
<text transform="translate(1352.75,1213.96) scale(1.0184,0.9816)" font-family="'Liberation Sans', sans-serif" stroke="#000" stroke-width="0.5" font-size="35.01">10</text>
<text transform="translate(1392.33,1202.7) scale(0.9919,1.0081)" font-family="'Liberation Sans', sans-serif" stroke="#000" stroke-width="0.5" font-size="23.52">4</text>
<text transform="translate(1414.66,1214.3) scale(0.9794,1.0206)" font-family="'Liberation Sans', sans-serif" stroke="#000" stroke-width="0.5" font-size="34.65">(mL)</text>
<text transform="translate(59.45,396.76) rotate(-90) scale(0.9743,1.0257)" font-family="'Liberation Sans', sans-serif" stroke="#000" stroke-width="0.5" font-size="33.78">IFx10</text>
<text transform="translate(952.75,396.76) rotate(-90) scale(0.9743,1.0257)" font-family="'Liberation Sans', sans-serif" stroke="#000" stroke-width="0.5" font-size="33.78">IFx10</text>
<text transform="translate(47.96,313.22) rotate(-90) scale(0.9818,1.0182)" font-family="'Liberation Sans', sans-serif" stroke="#000" stroke-width="0.5" font-size="23.52">-6</text>
<text transform="translate(941.26,313.22) rotate(-90) scale(0.9818,1.0182)" font-family="'Liberation Sans', sans-serif" stroke="#000" stroke-width="0.5" font-size="23.52">-6</text>
<text transform="translate(58.7,283.28) rotate(-90) scale(0.9780,1.0220)" font-family="'Liberation Sans', sans-serif" stroke="#000" stroke-width="0.5" font-size="35.39">(a.u.)</text>
<text transform="translate(952,283.28) rotate(-90) scale(0.9780,1.0220)" font-family="'Liberation Sans', sans-serif" stroke="#000" stroke-width="0.5" font-size="35.39">(a.u.)</text>
<text transform="translate(69.3,981.3) rotate(-90) scale(0.8818,1.1182)" font-family="'Liberation Sans', sans-serif" stroke="#000" stroke-width="0.5" font-size="31.24">K</text>
<text transform="translate(957.1,964.8) rotate(-90) scale(0.8818,1.1182)" font-family="'Liberation Sans', sans-serif" stroke="#000" stroke-width="0.5" font-size="31.24">K</text>
<text transform="translate(78.47,962.22) rotate(-90) scale(0.9459,1.0541)" font-family="'Liberation Sans', sans-serif" stroke="#000" stroke-width="0.5" font-size="21.91">sv</text>
<text transform="translate(966.27,945.72) rotate(-90) scale(0.9459,1.0541)" font-family="'Liberation Sans', sans-serif" stroke="#000" stroke-width="0.5" font-size="21.91">sv</text>
<text transform="translate(57.3,940.83) rotate(-90) scale(1.0176,0.9824)" font-family="'Liberation Sans', sans-serif" stroke="#000" stroke-width="0.5" font-size="22.80">ap</text>
<text transform="translate(945.1,924.33) rotate(-90) scale(1.0176,0.9824)" font-family="'Liberation Sans', sans-serif" stroke="#000" stroke-width="0.5" font-size="22.80">ap</text>
<text transform="translate(68.23,906.41) rotate(-90) scale(1.0452,0.9548)" font-family="'Liberation Sans', sans-serif" stroke="#000" stroke-width="0.5" font-size="36.77">(M</text>
<text transform="translate(956.03,889.91) rotate(-90) scale(1.0452,0.9548)" font-family="'Liberation Sans', sans-serif" stroke="#000" stroke-width="0.5" font-size="36.77">(M</text>
<text transform="translate(57.7,861.73) rotate(-90) scale(0.9859,1.0141)" font-family="'Liberation Sans', sans-serif" stroke="#000" stroke-width="0.5" font-size="23.58">-1</text>
<text transform="translate(945.5,845.23) rotate(-90) scale(0.9859,1.0141)" font-family="'Liberation Sans', sans-serif" stroke="#000" stroke-width="0.5" font-size="23.58">-1</text>
<text transform="translate(68.23,838.68) rotate(-90) scale(0.8819,1.1181)" font-family="'Liberation Sans', sans-serif" stroke="#000" stroke-width="0.5" font-size="31.40">)</text>
<text transform="translate(956.03,822.18) rotate(-90) scale(0.8819,1.1181)" font-family="'Liberation Sans', sans-serif" stroke="#000" stroke-width="0.5" font-size="31.40">)</text>
</svg>
</body></html>
